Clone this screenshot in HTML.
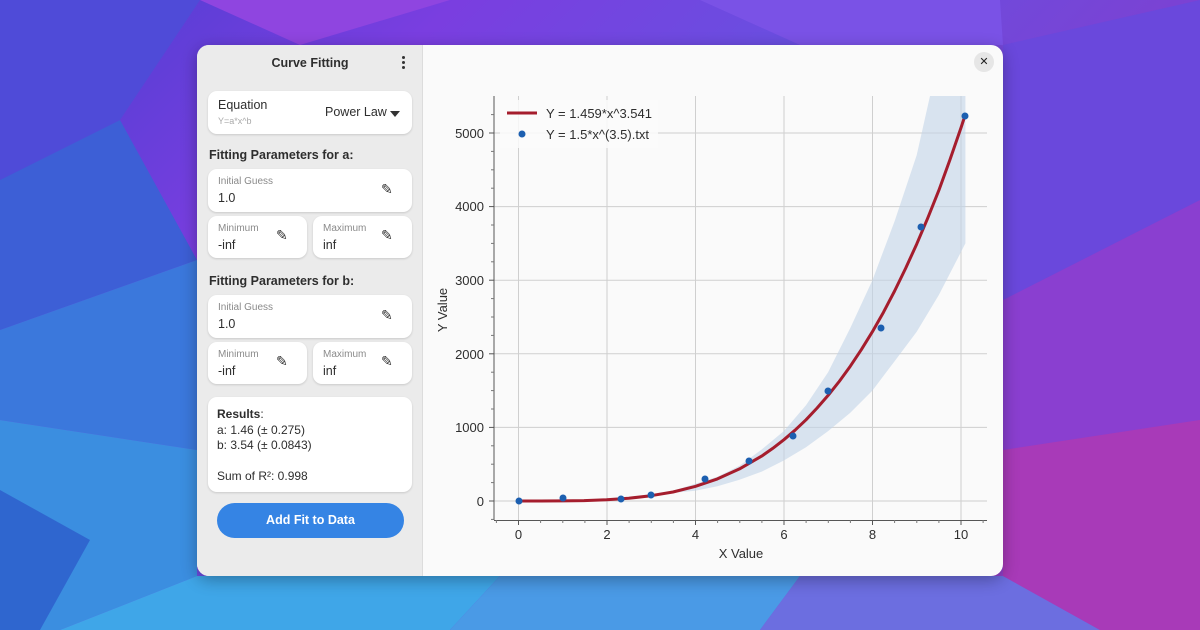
<!DOCTYPE html>
<html><head><meta charset="utf-8"><style>
*{margin:0;padding:0;box-sizing:border-box}
body{width:1200px;height:630px;overflow:hidden;position:relative;font-family:"Liberation Sans","DejaVu Sans",sans-serif;
background:linear-gradient(135deg,#4a3fd0 0%,#7a3ee0 25%,#6a4ee0 45%,#7f3fd0 70%,#a43fc4 100%);}
.bg{position:absolute;inset:0}
.win{position:absolute;left:197px;top:45px;width:806px;height:531px;border-radius:12px;overflow:hidden;background:#fafafa;box-shadow:0 4px 16px rgba(0,0,0,.3)}
.side{position:absolute;left:0;top:0;width:226px;height:531px;background:#ebebeb;border-right:1px solid #dcdcdc}
.abs{position:absolute}
.card{position:absolute;background:#fff;border-radius:9px;box-shadow:0 1px 2px rgba(0,0,0,.15)}
.lbl{position:absolute;font-size:10px;color:#8a8a8a}
.val{position:absolute;font-size:12.5px;color:#2e2e2e}
.h{position:absolute;font-size:12.5px;font-weight:bold;color:#2e2e2e}
.pen{position:absolute;font-size:14px;color:#2e2e2e}
</style></head><body>
<svg class="bg" width="1200" height="630">
<polygon points="0,0 200,0 120,120 0,180" fill="#4f4bd8"/>
<polygon points="200,0 450,0 300,45" fill="#8f45e0"/>
<polygon points="0,180 120,120 197,260 0,330" fill="#3d5fd6"/>
<polygon points="0,330 197,260 197,450 0,420" fill="#3b78dc"/>
<polygon points="0,420 197,450 197,576 60,630 0,630" fill="#3b8ee0"/>
<polygon points="60,630 197,576 500,576 450,630" fill="#3fa6e8"/>
<polygon points="450,630 500,576 800,576 760,630" fill="#4a9ae6"/>
<polygon points="760,630 800,576 1003,576 1100,630" fill="#6c6ee0"/>
<polygon points="1003,300 1200,200 1200,420 1003,450" fill="#8a3fd0"/>
<polygon points="1003,450 1200,420 1200,630 1100,630 1003,576" fill="#a83ab8"/>
<polygon points="1003,45 1200,0 1200,200 1003,300" fill="#6a48dc"/>
<polygon points="700,0 1000,0 1003,45 800,45" fill="#7a52e6"/>
<polygon points="0,490 90,540 40,630 0,630" fill="#2f66cf"/>
</svg>
<div class="win">
<div class="side">
<div class="abs" style="left:0;width:226px;top:11px;text-align:center;font-size:12.5px;font-weight:bold;color:#2e2e2e">Curve Fitting</div>
<div class="abs" style="left:205px;top:11px;width:3px">
<div style="width:3px;height:3px;border-radius:2px;background:#333;margin-bottom:2px"></div>
<div style="width:3px;height:3px;border-radius:2px;background:#333;margin-bottom:2px"></div>
<div style="width:3px;height:3px;border-radius:2px;background:#333"></div></div>
<div class="card" style="left:11px;top:46px;width:204px;height:43px">
<div class="val" style="left:10px;top:7px">Equation</div>
<div class="lbl" style="left:10px;top:25px;font-size:9px;color:#aaa">Y=a*x^b</div>
<div class="val" style="left:117px;top:14px">Power Law</div>
<div class="abs" style="left:182px;top:20px;width:0;height:0;border-left:5px solid transparent;border-right:5px solid transparent;border-top:6px solid #333"></div>
</div>
<div class="h" style="left:12px;top:103px">Fitting Parameters for a:</div>
<div class="card" style="left:11px;top:124px;width:204px;height:43px">
<div class="lbl" style="left:10px;top:7px">Initial Guess</div><div class="val" style="left:10px;top:22px">1.0</div><div class="pen" style="left:173px;top:12px">✎</div></div>
<div class="card" style="left:11px;top:171px;width:99px;height:42px">
<div class="lbl" style="left:10px;top:7px">Minimum</div><div class="val" style="left:10px;top:22px">-inf</div><div class="pen" style="left:68px;top:11px">✎</div></div>
<div class="card" style="left:116px;top:171px;width:99px;height:42px">
<div class="lbl" style="left:10px;top:7px">Maximum</div><div class="val" style="left:10px;top:22px">inf</div><div class="pen" style="left:68px;top:11px">✎</div></div>
<div class="h" style="left:12px;top:229px">Fitting Parameters for b:</div>
<div class="card" style="left:11px;top:250px;width:204px;height:43px">
<div class="lbl" style="left:10px;top:7px">Initial Guess</div><div class="val" style="left:10px;top:22px">1.0</div><div class="pen" style="left:173px;top:12px">✎</div></div>
<div class="card" style="left:11px;top:297px;width:99px;height:42px">
<div class="lbl" style="left:10px;top:7px">Minimum</div><div class="val" style="left:10px;top:22px">-inf</div><div class="pen" style="left:68px;top:11px">✎</div></div>
<div class="card" style="left:116px;top:297px;width:99px;height:42px">
<div class="lbl" style="left:10px;top:7px">Maximum</div><div class="val" style="left:10px;top:22px">inf</div><div class="pen" style="left:68px;top:11px">✎</div></div>
<div class="card" style="left:11px;top:352px;width:204px;height:95px">
<div class="abs" style="left:9px;top:10px;font-size:12px;color:#2e2e2e;line-height:15.5px"><b>Results</b>:<br>a: 1.46 (± 0.275)<br>b: 3.54 (± 0.0843)<br><br>Sum of R²: 0.998</div></div>
<div class="abs" style="left:20px;top:458px;width:187px;height:35px;border-radius:18px;background:#3584e4;color:#fff;font-size:12.5px;font-weight:bold;text-align:center;line-height:35px">Add Fit to Data</div>
</div>
<div class="abs" style="left:777px;top:7px;width:20px;height:20px;border-radius:50%;background:#e6e6e6;text-align:center;line-height:20px;font-size:11px;font-weight:bold;color:#222">✕</div>
</div>
<svg class="abs" style="left:0;top:0" width="1200" height="630" font-family="Liberation Sans, DejaVu Sans, sans-serif">
<g stroke="#cfcfcf" stroke-width="1">
<line x1="518.5" y1="96" x2="518.5" y2="520"/><line x1="607" y1="96" x2="607" y2="520"/><line x1="695.5" y1="96" x2="695.5" y2="520"/><line x1="784" y1="96" x2="784" y2="520"/><line x1="872.5" y1="96" x2="872.5" y2="520"/><line x1="961" y1="96" x2="961" y2="520"/>
<line x1="494" y1="501" x2="987" y2="501"/><line x1="494" y1="427.4" x2="987" y2="427.4"/><line x1="494" y1="353.8" x2="987" y2="353.8"/><line x1="494" y1="280.2" x2="987" y2="280.2"/><line x1="494" y1="206.6" x2="987" y2="206.6"/><line x1="494" y1="133" x2="987" y2="133"/>
</g>
<polygon fill="#c2d4e8" fill-opacity="0.6" points="673,490.7 717.4,476.7 739.5,465.7 761.7,449.5 783.8,431.1 806,405.3 828.1,372.2 850.3,328 872.4,280.2 894.6,221.3 916.7,155.1 930,96 965.4,96 965.4,243.4 938.9,294.9 916.7,331.7 894.6,361.2 872.4,390.6 850.3,412.7 828.1,431.1 806,447.3 783.8,460.5 761.7,471.6 739.5,479.7 717.4,486.3 695.2,490.7 673,492.9"/>
<g stroke="#555" stroke-width="1"><line x1="494" y1="96" x2="494" y2="520"/><line x1="494" y1="520.5" x2="987" y2="520.5"/>
<line x1="518.5" y1="520" x2="518.5" y2="525"/><line x1="607" y1="520" x2="607" y2="525"/><line x1="695.5" y1="520" x2="695.5" y2="525"/><line x1="784" y1="520" x2="784" y2="525"/><line x1="872.5" y1="520" x2="872.5" y2="525"/><line x1="961" y1="520" x2="961" y2="525"/>
<line x1="489" y1="501" x2="494" y2="501"/><line x1="489" y1="427.4" x2="494" y2="427.4"/><line x1="489" y1="353.8" x2="494" y2="353.8"/><line x1="489" y1="280.2" x2="494" y2="280.2"/><line x1="489" y1="206.6" x2="494" y2="206.6"/><line x1="489" y1="133" x2="494" y2="133"/></g>
<g stroke="#777" stroke-width="1">
<line x1="540.6" y1="520" x2="540.6" y2="523"/><line x1="562.8" y1="520" x2="562.8" y2="523"/><line x1="584.9" y1="520" x2="584.9" y2="523"/><line x1="629.1" y1="520" x2="629.1" y2="523"/><line x1="651.3" y1="520" x2="651.3" y2="523"/><line x1="673.4" y1="520" x2="673.4" y2="523"/><line x1="717.6" y1="520" x2="717.6" y2="523"/><line x1="739.8" y1="520" x2="739.8" y2="523"/><line x1="761.9" y1="520" x2="761.9" y2="523"/><line x1="806.1" y1="520" x2="806.1" y2="523"/><line x1="828.3" y1="520" x2="828.3" y2="523"/><line x1="850.4" y1="520" x2="850.4" y2="523"/><line x1="894.6" y1="520" x2="894.6" y2="523"/><line x1="916.8" y1="520" x2="916.8" y2="523"/><line x1="938.9" y1="520" x2="938.9" y2="523"/><line x1="496.4" y1="520" x2="496.4" y2="523"/><line x1="983.1" y1="520" x2="983.1" y2="523"/>
<line x1="491" y1="482.6" x2="494" y2="482.6"/><line x1="491" y1="464.2" x2="494" y2="464.2"/><line x1="491" y1="445.8" x2="494" y2="445.8"/><line x1="491" y1="409" x2="494" y2="409"/><line x1="491" y1="390.6" x2="494" y2="390.6"/><line x1="491" y1="372.2" x2="494" y2="372.2"/><line x1="491" y1="335.4" x2="494" y2="335.4"/><line x1="491" y1="317" x2="494" y2="317"/><line x1="491" y1="298.6" x2="494" y2="298.6"/><line x1="491" y1="261.8" x2="494" y2="261.8"/><line x1="491" y1="243.4" x2="494" y2="243.4"/><line x1="491" y1="225" x2="494" y2="225"/><line x1="491" y1="188.2" x2="494" y2="188.2"/><line x1="491" y1="169.8" x2="494" y2="169.8"/><line x1="491" y1="151.4" x2="494" y2="151.4"/><line x1="491" y1="114.6" x2="494" y2="114.6"/><line x1="491" y1="519.4" x2="494" y2="519.4"/>
</g>
<polyline fill="none" stroke="#a51d2d" stroke-width="3" stroke-linejoin="round" points="518,501 540,501 562.3,500.9 584,500.6 606.6,499.7 628.7,498.3 650.9,495.7 673,492 695.2,486.4 717.4,478.9 739.5,468.9 761.7,456.1 772.7,448.4 783.8,439.8 794.9,430.3 806,419.8 817,408.1 828.1,395.4 839.2,381.5 850.3,366.2 861.3,349.7 872.4,331.7 883.5,312.2 894.6,291 905.6,268.4 916.7,244.1 927.8,217.9 938.9,190.2 949.9,159.9 961,127.8 965.4,114.4"/>
<g fill="#1c5fb0"><circle cx="519" cy="501" r="3.5"/><circle cx="563" cy="498" r="3.5"/><circle cx="621" cy="499" r="3.5"/><circle cx="651" cy="495" r="3.5"/><circle cx="705" cy="479" r="3.5"/><circle cx="749" cy="461" r="3.5"/><circle cx="793" cy="436" r="3.5"/><circle cx="828" cy="391" r="3.5"/><circle cx="881" cy="328" r="3.5"/><circle cx="921" cy="227" r="3.5"/><circle cx="965" cy="116" r="3.5"/></g>
<rect x="500" y="100" width="158" height="48" fill="#fafafa" fill-opacity="0.85"/>
<line x1="507" y1="113" x2="537" y2="113" stroke="#a51d2d" stroke-width="3"/>
<circle cx="522" cy="134" r="3.5" fill="#1c5fb0"/>
<g font-size="13" fill="#2e2e2e"><text x="546" y="118">Y = 1.459*x^3.541</text><text x="546" y="139">Y = 1.5*x^(3.5).txt</text></g>
<g font-size="13" fill="#2e2e2e" text-anchor="end"><text x="484" y="506">0</text><text x="484" y="432">1000</text><text x="484" y="359">2000</text><text x="484" y="285">3000</text><text x="484" y="211">4000</text><text x="484" y="138">5000</text></g>
<g font-size="13" fill="#2e2e2e" text-anchor="middle"><text x="518.5" y="539">0</text><text x="607" y="539">2</text><text x="695.5" y="539">4</text><text x="784" y="539">6</text><text x="872.5" y="539">8</text><text x="961" y="539">10</text>
<text x="741" y="558">X Value</text><text transform="translate(447,310) rotate(-90)">Y Value</text></g>
</svg>
</body></html>
